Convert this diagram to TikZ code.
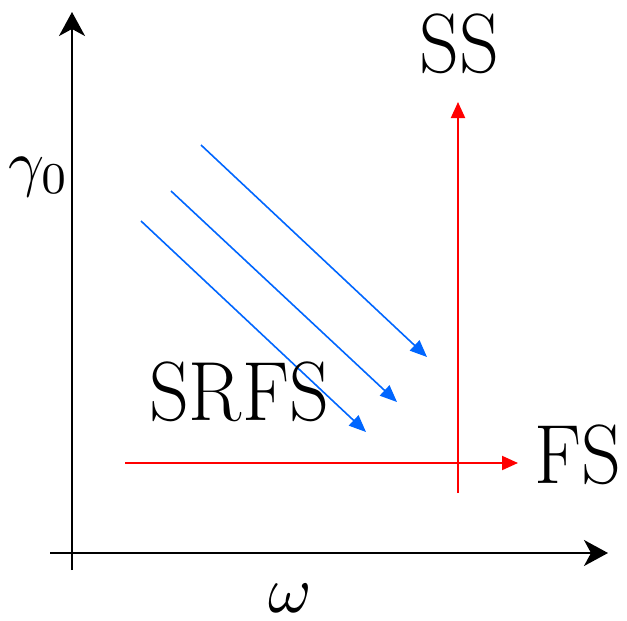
\documentclass[tikz,border=0pt]{standalone}
\usetikzlibrary{arrows.meta}
\definecolor{myblue}{RGB}{0,102,255}
\definecolor{myred}{RGB}{255,0,0}
\tikzset{
  axis/.style={line width=2pt, black, -{Stealth[length=24pt,width=26pt,inset=7pt]}},
  redarrow/.style={line width=2pt, myred, -{Triangle[length=16pt,width=14pt]}},
  bluearrow/.style={line width=1.6pt, myblue, -{Triangle[length=17pt,width=14pt]}},
  lab/.style={anchor=base, inner sep=0pt, font=\fontsize{84}{90}\selectfont},
  mlab/.style={anchor=base, inner sep=0pt}
}
\begin{document}
\begin{tikzpicture}[x=1pt,y=-1pt]
\useasboundingbox (0,0) rectangle (627,621);
% axes
\coordinate (yb) at (72,570);
\coordinate (yt) at (72,12);
\coordinate (xl) at (50,553);
\coordinate (xr) at (608,553);
\draw[axis] (yb) -- (yt);
\draw[axis] (xl) -- (xr);
% red arrows
\coordinate (rvb) at (458,493);
\coordinate (rvt) at (458,102);
\coordinate (rhl) at (125,463);
\coordinate (rhr) at (518,463);
\draw[redarrow] (rvb) -- (rvt);
\draw[redarrow] (rhl) -- (rhr);
% blue arrows
\coordinate (b1s) at (201,145);
\coordinate (b1e) at (427,357);
\coordinate (b2s) at (171,191);
\coordinate (b2e) at (397,402);
\coordinate (b3s) at (141,221);
\coordinate (b3e) at (366,432);
\draw[bluearrow] (b1s) -- (b1e);
\draw[bluearrow] (b2s) -- (b2e);
\draw[bluearrow] (b3s) -- (b3e);
% labels
\node[lab] (ss) at (459,72) {\scalebox{0.93}[1]{SS}};
\node[lab] (fs) at (578,483) {\scalebox{0.93}[1]{FS}};
\node[lab] (srfs) at (239,420) {\scalebox{0.93}[1]{SRFS}};
\node[mlab] (gam) at (39,184) {\scalebox{6.3}{$\gamma_0$}};
\node[mlab] (om) at (290,612) {\scalebox{6.6}{$\omega$}};
\end{tikzpicture}
\end{document}
